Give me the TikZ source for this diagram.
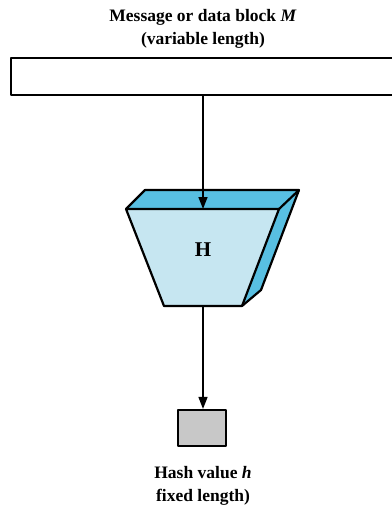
\documentclass[tikz,border=0pt]{standalone}
\usepackage{fontspec}
\setmainfont{Liberation Serif}
\usetikzlibrary{arrows.meta}
\definecolor{facelight}{HTML}{C6E6F1}
\definecolor{facedark}{HTML}{58BFE2}
\definecolor{boxgray}{HTML}{C8C8C8}
\begin{document}
\begin{tikzpicture}[x=1pt,y=-1pt,
  outline/.style={draw=black,line width=2.2pt,line join=round},
  flow/.style={draw=black,line width=1.6pt,-{Triangle[length=12pt,width=9pt]}},
  caption/.style={font=\fontsize{17.5}{23}\selectfont\bfseries,align=center,inner sep=0pt}]
\useasboundingbox (0,0) rectangle (391,508);

% input message block (runs past the right edge)
\node[outline,rectangle,minimum width=390pt,minimum height=37pt,anchor=north west,inner sep=0pt] (msg) at (10,57) {};
\node[caption] (msglabel) at (203,29) {Message or data block \textit{M}\\(variable length)};

% hash function H drawn as a trapezoidal block
\coordinate (ftl) at (126,209);
\coordinate (ftr) at (279,209);
\coordinate (fbr) at (242,306);
\coordinate (fbl) at (164,306);
\coordinate (btl) at (145,190);
\coordinate (btr) at (299,190);
\coordinate (bbr) at (261,290);
\fill[facedark] (ftl) -- (btl) -- (btr) -- (ftr) -- cycle;
\fill[facedark] (ftr) -- (btr) -- (bbr) -- (fbr) -- cycle;
\fill[facelight] (ftl) -- (ftr) -- (fbr) -- (fbl) -- cycle;
\draw[outline] (ftl) -- (btl) -- (btr) -- (ftr);
\draw[outline] (btr) -- (bbr) -- (fbr);
\draw[outline] (ftl) -- (ftr) -- (fbr) -- (fbl) -- cycle;
\node[font=\fontsize{21}{24}\selectfont\bfseries] (hfunc) at (203,250) {H};
\coordinate (hin) at (203,209);
\coordinate (hout) at (203,306);

% fixed-length hash value
\node[outline,fill=boxgray,rectangle,minimum width=48pt,minimum height=36pt,inner sep=0pt] (hash) at (202,428) {};
\node[caption] (hashlabel) at (203,486) {Hash value \textit{h}\\fixed length)};

% connectors
\draw[flow] (msg.south -| hin) -- (hin);
\draw[flow] (hout) -- (hout |- hash.north);
\end{tikzpicture}
\end{document}
